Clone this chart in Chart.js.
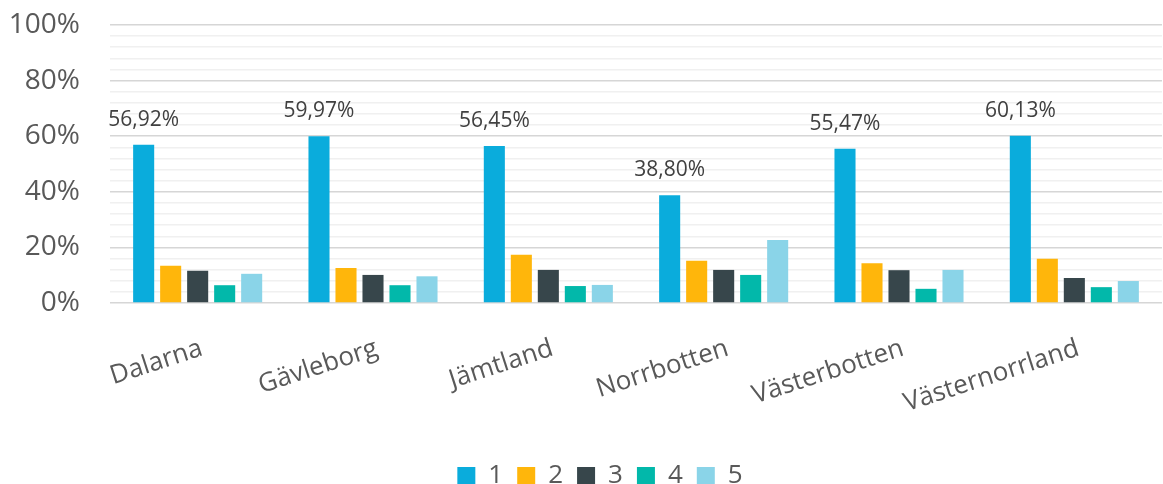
<!DOCTYPE html>
<html>
<head>
<meta charset="utf-8">
<script src="https://cdn.jsdelivr.net/npm/chart.js@4"></script>
<style>
  html, body { margin: 0; padding: 0; background: #fff; }
  #wrap { width: 1163px; height: 484px; }
</style>
</head>
<body>
<div id="wrap"><canvas id="myChart"></canvas></div>
<script>
'use strict';

const categories = ['Dalarna', 'Gävleborg', 'Jämtland', 'Norrbotten', 'Västerbotten', 'Västernorrland'];
const seriesNames = ['1', '2', '3', '4', '5'];
const series1 = [56.92, 59.97, 56.45, 38.80, 55.47, 60.13];
const series2 = [13.4, 12.6, 17.4, 15.2, 14.3, 15.9];
const series3 = [11.6, 10.1, 11.9, 11.9, 11.8, 9.0];
const series4 = [6.4, 6.4, 6.1, 10.1, 5.1, 5.7];
const series5 = [10.5, 9.6, 6.5, 22.7, 11.9, 7.9];
const colors = ['#0aacdc', '#ffb60b', '#37464b', '#02b8aa', '#8ad4e8'];

const ctx = document.getElementById('myChart').getContext('2d');
const FONT = "'Open Sans', sans-serif";

// labels above the first series only
const valueLabels = {
  id: 'valueLabels',
  afterDatasetsDraw(chart) {
    const c = chart.ctx;
    const meta = chart.getDatasetMeta(0);
    c.save();
    c.font = '21px ' + FONT;
    c.fillStyle = '#404040';
    c.textAlign = 'center';
    c.textBaseline = 'alphabetic';
    meta.data.forEach((bar, i) => {
      const txt = series1[i].toFixed(2).replace('.', ',') + '%';
      c.fillText(txt, bar.x, bar.y - 19);
    });
    c.restore();
  }
};

// the original legend sits a little right of centre
const nudgeLegend = {
  id: 'nudgeLegend',
  afterLayout(chart) {
    chart.legend.left += 15;
    chart.legend.right += 15;
  }
};

const allSeries = [series1, series2, series3, series4, series5];

new Chart(ctx, {
  type: 'bar',
  data: {
    labels: categories,
    datasets: allSeries.map((d, i) => ({
      label: seriesNames[i],
      data: d,
      backgroundColor: colors[i],
      borderWidth: 0,
      barPercentage: 0.78,
      categoryPercentage: 0.77
    }))
  },
  options: {
    responsive: true,
    maintainAspectRatio: false,
    animation: false,
    layout: { padding: { top: 25, left: 8, right: 1, bottom: -15 } },
    plugins: {
      tooltip: { enabled: false },
      legend: {
        position: 'bottom',
        labels: {
          boxWidth: 18,
          boxHeight: 18,
          padding: 14,
          color: '#595959',
          font: { family: FONT, size: 26 }
        }
      }
    },
    scales: {
      x: {
        grid: { display: false, drawTicks: false },
        border: { display: false },
        afterFit: s => { s.paddingLeft = 0; s.paddingRight = 0; s.height = 146; },
        ticks: {
          color: '#595959',
          font: { family: FONT, size: 26 },
          minRotation: 18,
          maxRotation: 18,
          padding: 30,
          labelOffset: 4
        }
      },
      y: {
        min: 0,
        max: 100,
        border: { display: false },
        afterFit: s => { s.paddingTop = 0; s.paddingBottom = 0; s.width = 102; },
        grid: {
          drawTicks: false,
          lineWidth: 1.5,
          color: c => (Math.round(c.tick.value) % 20 === 0 ? '#d6d6d6' : '#f0f0f0')
        },
        ticks: {
          stepSize: 4,
          autoSkip: false,
          padding: 30,
          color: '#595959',
          font: { family: FONT, size: 28 },
          callback: v => (Math.round(v) % 20 === 0 ? Math.round(v) + '%' : '')
        }
      }
    }
  },
  plugins: [valueLabels, nudgeLegend]
});
</script>
</body>
</html>
